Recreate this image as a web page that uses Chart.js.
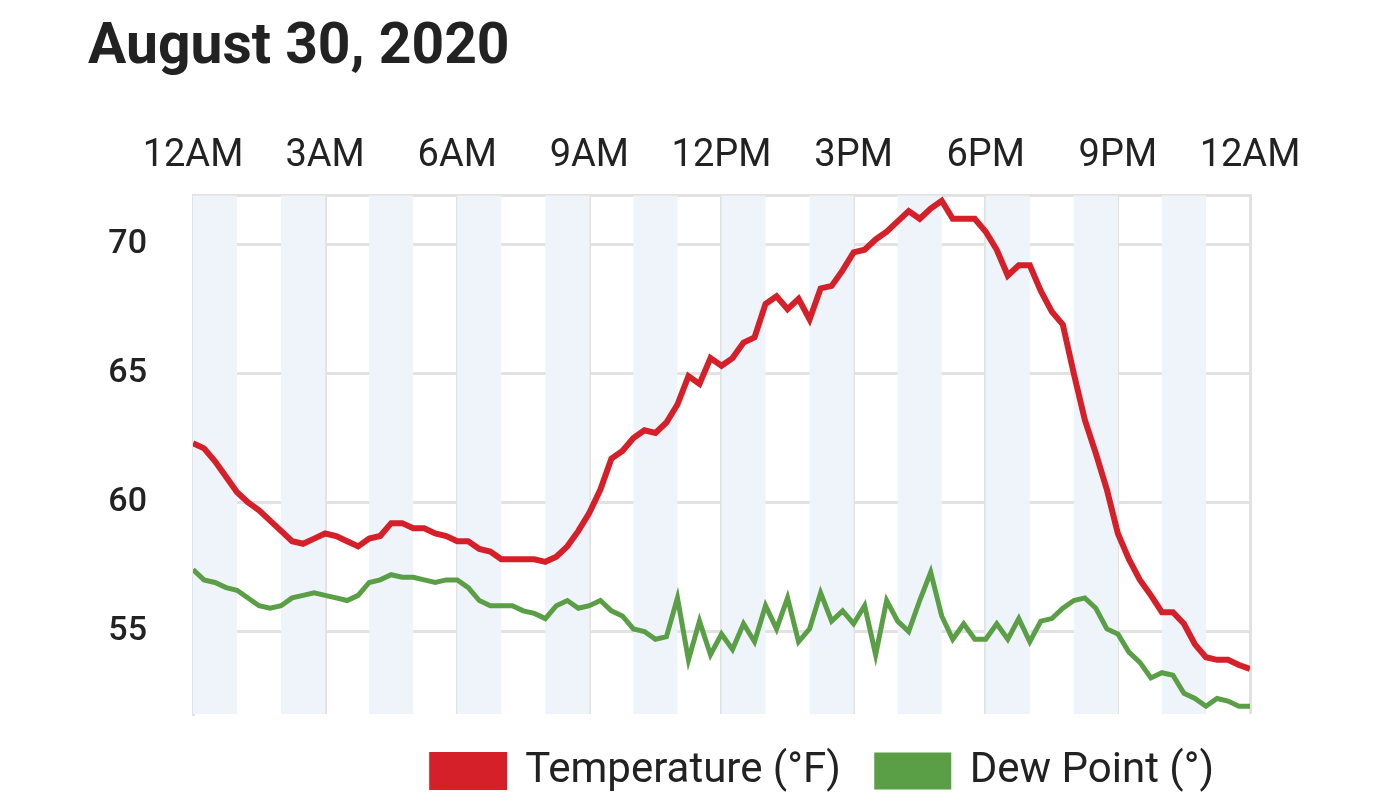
<!DOCTYPE html>
<html><head><meta charset="utf-8">
<script src="https://cdn.jsdelivr.net/npm/chart.js@4"></script>
<style>
body{margin:0;background:#fff;font-family:Roboto,sans-serif;}
#title{position:absolute;left:88px;top:10px;font-size:57px;font-weight:bold;color:#222;}
#wrap{position:absolute;left:0;top:0;width:1390px;height:806px;}
</style></head><body>
<div id="wrap"><canvas id="chart" width="1390" height="806"></canvas></div>
<div id="title">August 30, 2020</div>
<script>
const hourLabels = ["12AM","3AM","6AM","9AM","12PM","3PM","6PM","9PM","12AM"];
const hours = [0,0.25,0.5,0.75,1,1.25,1.5,1.75,2,2.25,2.5,2.75,3,3.25,3.5,3.75,4,4.25,4.5,4.75,5,5.25,5.5,5.75,6,6.25,6.5,6.75,7,7.25,7.5,7.75,8,8.25,8.5,8.75,9,9.25,9.5,9.75,10,10.25,10.5,10.75,11,11.25,11.5,11.75,12,12.25,12.5,12.75,13,13.25,13.5,13.75,14,14.25,14.5,14.75,15,15.25,15.5,15.75,16,16.25,16.5,16.75,17,17.25,17.5,17.75,18,18.25,18.5,18.75,19,19.25,19.5,19.75,20,20.25,20.5,20.75,21,21.25,21.5,21.75,22,22.25,22.5,22.75,23,23.25,23.5,23.75,24];
const temperature = [62.3,62.1,61.6,61.0,60.4,60.0,59.7,59.3,58.9,58.5,58.4,58.6,58.8,58.7,58.5,58.3,58.6,58.7,59.2,59.2,59.0,59.0,58.8,58.7,58.5,58.5,58.2,58.1,57.8,57.8,57.8,57.8,57.7,57.9,58.3,58.9,59.6,60.5,61.7,62.0,62.5,62.8,62.7,63.1,63.8,64.9,64.6,65.6,65.3,65.6,66.2,66.4,67.7,68.0,67.5,67.9,67.1,68.3,68.4,69.0,69.7,69.8,70.2,70.5,70.9,71.3,71.0,71.4,71.7,71.0,71.0,71.0,70.5,69.8,68.8,69.2,69.2,68.2,67.4,66.9,65.0,63.2,61.9,60.5,58.8,57.8,57.0,56.4,55.75,55.75,55.3,54.5,54.0,53.9,53.9,53.7,53.55];
const dewPoint = [57.4,57.0,56.9,56.7,56.6,56.3,56.0,55.9,56.0,56.3,56.4,56.5,56.4,56.3,56.2,56.4,56.9,57.0,57.2,57.1,57.1,57.0,56.9,57.0,57.0,56.7,56.2,56.0,56.0,56.0,55.8,55.7,55.5,56.0,56.2,55.9,56.0,56.2,55.8,55.6,55.1,55.0,54.7,54.8,56.3,53.9,55.4,54.1,54.9,54.3,55.3,54.6,56.0,55.1,56.3,54.6,55.1,56.5,55.4,55.8,55.3,56.0,54.1,56.2,55.4,55.0,56.2,57.3,55.6,54.7,55.3,54.7,54.7,55.3,54.7,55.5,54.6,55.4,55.5,55.9,56.2,56.3,55.9,55.1,54.9,54.2,53.8,53.2,53.4,53.3,52.6,52.4,52.1,52.4,52.3,52.1,52.1];

const bandPlugin = {
  id: 'bands',
  beforeDatasetsDraw(chart) {
    const {ctx, chartArea, scales} = chart;
    ctx.save();
    ctx.fillStyle = '#eef4fa';
    for (let h = 0; h < 24; h += 2) {
      const x1 = scales.x.getPixelForValue(h), x2 = scales.x.getPixelForValue(h + 1);
      ctx.fillRect(x1, chartArea.top, x2 - x1, chartArea.bottom - chartArea.top);
    }
    ctx.restore();
  }
};

new Chart(document.getElementById('chart'), {
  type: 'line',
  data: {
    datasets: [
      { label: 'Temperature (°F)', data: hours.map((h, i) => ({x: h, y: temperature[i]})), borderColor: '#d52029', backgroundColor: '#d52029', borderWidth: 6, pointRadius: 0, tension: 0 },
      { label: 'Dew Point (°)', data: hours.map((h, i) => ({x: h, y: dewPoint[i]})), borderColor: '#5a9e46', backgroundColor: '#5a9e46', borderWidth: 5, pointRadius: 0, tension: 0 }
    ]
  },
  options: {
    responsive: false, animation: false,
    layout: { padding: { left: 0, right: 140, top: 118, bottom: 4 } },
    plugins: {
      legend: { position: 'bottom', align: 'end',
        labels: { boxWidth: 72, boxHeight: 32, font: { size: 42, family: 'Roboto' }, color: '#222', padding: 36 } },
      tooltip: { enabled: false }
    },
    scales: {
      x: { type: 'linear', position: 'top', min: 0, max: 24,
        grid: { color: '#e2e2e2', lineWidth: 3, drawTicks: false },
        border: { color: '#e2e2e2', width: 3 },
        ticks: { stepSize: 3, padding: 16, color: '#222', font: { size: 38, family: 'Roboto' }, maxRotation: 0,
          callback: (v) => hourLabels[v / 3] } },
      y: { min: 51.8, max: 71.9,
        afterBuildTicks: (s) => { s.ticks = [55, 60, 65, 70].map(v => ({value: v})); },
        afterFit: (s) => { s.width = 193; },
        grid: { color: '#e2e2e2', lineWidth: 3, drawTicks: false },
        border: { color: '#e2e2e2', width: 3 },
        ticks: { padding: 46, color: '#222', font: { size: 34, family: 'Roboto', weight: '500' } } }
    }
  },
  plugins: [bandPlugin]
});
</script>
</body></html>
